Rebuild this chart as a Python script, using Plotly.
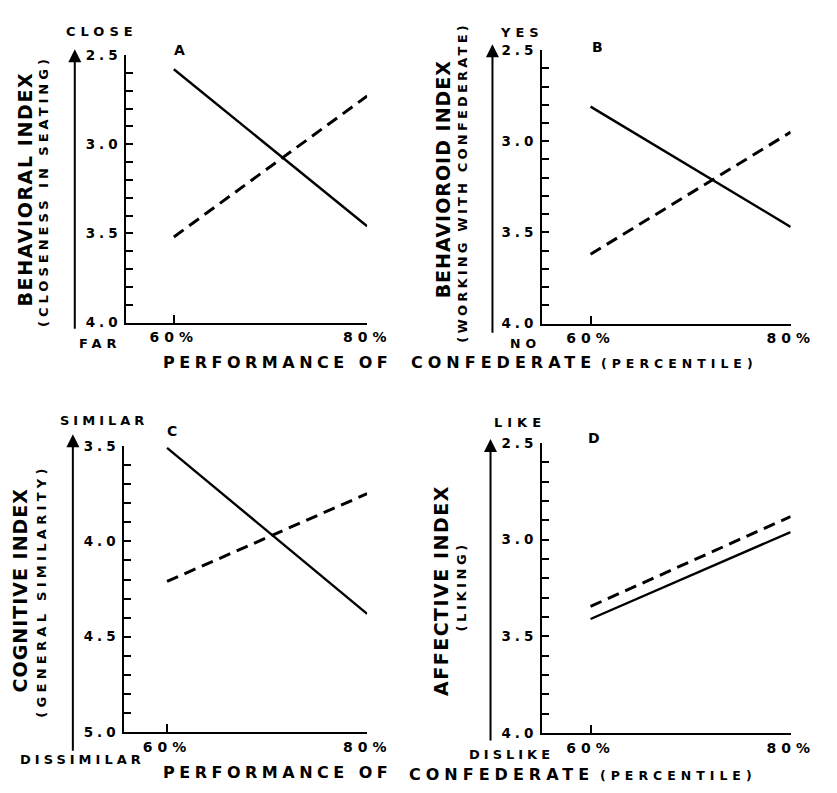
import plotly.graph_objects as go
import numpy as np

W, H = 837, 793
FONT = "DejaVu Sans"

# ---- data ----
performance = [60, 80]
tick_x_labels = ["60%", "80%"]

a_solid = [2.58, 3.46]
a_dashed = [3.52, 2.73]
b_solid = [2.81, 3.47]
b_dashed = [3.62, 2.95]
c_solid = [3.51, 4.38]
c_dashed = [4.21, 3.75]
d_solid = [3.41, 2.96]
d_dashed = [3.345, 2.88]

a_range = [4.0, 2.5]
b_range = [4.0, 2.5]
c_range = [5.0, 3.5]
d_range = [4.0, 2.5]

panels = [
    dict(name="A", solid=a_solid, dashed=a_dashed, yr=a_range,
         px=(130, 378), py=(48, 321), xr=[55.08, 80]),
    dict(name="B", solid=b_solid, dashed=b_dashed, yr=b_range,
         px=(558, 814), py=(43, 322), xr=[55.15, 80]),
    dict(name="C", solid=c_solid, dashed=c_dashed, yr=c_range,
         px=(128, 378), py=(447, 739), xr=[55.73, 80]),
    dict(name="D", solid=d_solid, dashed=d_dashed, yr=d_range,
         px=(558, 814), py=(444, 740), xr=[55.15, 80]),
]


def sp(text, ls):
    return f'<span style="letter-spacing:{ls}px">{text}</span>'


fig = go.Figure()
layout = dict(width=W, height=H, margin=dict(l=0, r=0, t=0, b=0),
              paper_bgcolor="white", plot_bgcolor="white", showlegend=False,
              font=dict(family=FONT, color="black", weight="bold"))

for i, p in enumerate(panels):
    idx = "" if i == 0 else str(i + 1)
    xa, ya = "x" + idx, "y" + idx
    fig.add_trace(go.Scatter(x=performance, y=p["solid"], mode="lines",
                             line=dict(color="black", width=2.4),
                             xaxis=xa, yaxis=ya, cliponaxis=False))
    fig.add_trace(go.Scatter(x=performance, y=p["dashed"], mode="lines",
                             line=dict(color="black", width=3, dash="12px,7px"),
                             xaxis=xa, yaxis=ya, cliponaxis=False))
    lo, hi = min(p["yr"]), max(p["yr"])
    yt = [round(v, 1) for v in np.arange(lo, hi + 0.001, 0.1)]
    ytt = [sp(f"{v:.1f}", 4) if abs(v * 2 - round(v * 2)) < 1e-6 else "" for v in yt]
    layout["xaxis" + idx] = dict(
        domain=[p["px"][0] / W, p["px"][1] / W], range=p["xr"], anchor=ya,
        showgrid=False, zeroline=False, showline=True, linecolor="black", linewidth=2,
        ticks="inside", ticklen=8, tickwidth=2, tickcolor="black",
        tickvals=performance, ticktext=[sp(t, 5) for t in tick_x_labels],
        tickfont=dict(size=14, family=FONT, color="black", weight="bold"),
        ticklabelstandoff=1)
    layout["yaxis" + idx] = dict(
        domain=[1 - p["py"][1] / H, 1 - p["py"][0] / H], range=p["yr"], anchor=xa,
        showgrid=False, zeroline=False, showline=True, linecolor="black", linewidth=2,
        ticks="inside", ticklen=7, tickwidth=1.8, tickcolor="black",
        tickvals=yt, ticktext=ytt,
        tickfont=dict(size=13.5, family=FONT, color="black", weight="bold"),
        ticklabelstandoff=0)

fig.update_layout(**layout)

annotations = []


def ann(text, x, y, size, ls, angle=0, xanchor="center"):
    annotations.append(dict(text=sp(text, ls), x=x / W, y=1 - y / H, xref="paper",
                            yref="paper", showarrow=False, textangle=angle,
                            xanchor=xanchor, yanchor="middle", borderpad=0,
                            font=dict(size=size, family=FONT, color="black",
                                      weight="bold")))


def arrow(x, ytip, ytail):
    annotations.append(dict(text="", x=x / W, y=1 - ytip / H, xref="paper",
                            yref="paper", showarrow=True, ax=0, ay=ytail - ytip,
                            axref="pixel", ayref="pixel", arrowhead=2, arrowsize=1.3,
                            arrowwidth=2, arrowcolor="black"))


# Panel A
ann("CLOSE", 105, 24, 13, 5)
ann("FAR", 103, 342, 13, 5)
ann("BEHAVIORAL INDEX", 26, 185, 19, 1.6, -90)
ann("(CLOSENESS IN SEATING)", 45, 187, 13, 4, -90)
ann("A", 185, 43, 14, 0)
arrow(77, 42, 323)
# Panel B
ann("YES", 537, 25, 13, 5)
ann("NO", 541, 342, 12.5, 5)
ann("BEHAVIOROID INDEX", 457, 175, 19, 1, -90)
ann("(WORKING WITH CONFEDERATE)", 476, 178, 13, 3.2, -90)
ann("B", 615, 40, 14, 0)
arrow(507, 37, 327)
# Row 1 x title
ann("PERFORMANCE OF", 167, 362, 16, 4.5, 0, "left")
ann("CONFEDERATE", 422, 362, 16, 5, 0, "left")
ann("(PERCENTILE)", 618, 363, 12.5, 5, 0, "left")
# Panel C
ann("SIMILAR", 107, 421, 13, 4)
ann("DISSIMILAR", 85, 767, 13, 4)
ann("COGNITIVE INDEX", 21, 594, 19, 1, -90)
ann("(GENERAL SIMILARITY)", 43, 595, 13, 4.3, -90)
ann("C", 177, 432, 14, 0)
arrow(75, 435, 753)
# Panel D
ann("LIKE", 535, 423, 13, 5)
ann("DISLIKE", 527, 762, 13, 4)
ann("AFFECTIVE INDEX", 454, 594, 19, 1.5, -90)
ann("(LIKING)", 475, 590, 13, 3.6, -90)
ann("D", 612, 439, 14, 0)
arrow(505, 440, 743)
# Row 2 x title
ann("PERFORMANCE OF", 167, 780, 16, 4.5, 0, "left")
ann("CONFEDERATE", 420, 782, 16, 5, 0, "left")
ann("(PERCENTILE)", 617, 783, 12.5, 5, 0, "left")

fig.update_layout(annotations=annotations)
fig.write_html("out.html",
               config={"displayModeBar": False},
               post_script="document.body.style.margin='0';"
                           "document.body.style.overflow='hidden';")
